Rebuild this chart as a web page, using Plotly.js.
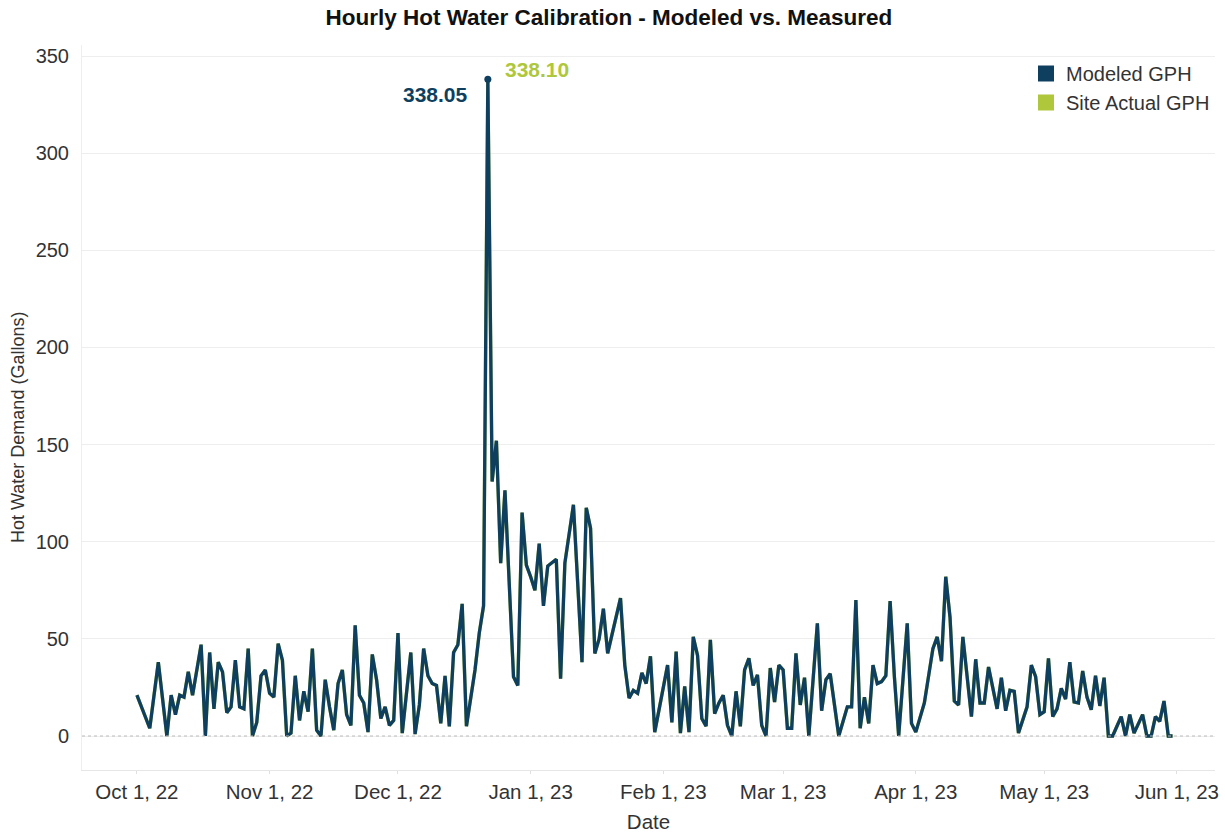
<!DOCTYPE html>
<html>
<head>
<meta charset="utf-8">
<script src="https://cdn.plot.ly/plotly-3.0.1.min.js"></script>
<style>html,body{margin:0;padding:0;background:#fff;}#chart{width:1225px;height:833px;}</style>
</head>
<body>
<div id="chart"></div>
<script>
const dates = [
"2022-10-01","2022-10-04","2022-10-06","2022-10-08","2022-10-09","2022-10-10","2022-10-11","2022-10-12","2022-10-13","2022-10-14",
"2022-10-16","2022-10-17","2022-10-18","2022-10-19","2022-10-20","2022-10-21","2022-10-22","2022-10-23","2022-10-24","2022-10-25",
"2022-10-26","2022-10-27","2022-10-28","2022-10-29","2022-10-30","2022-10-31","2022-11-01","2022-11-02","2022-11-03","2022-11-04",
"2022-11-05","2022-11-06","2022-11-07","2022-11-08","2022-11-09","2022-11-10","2022-11-11","2022-11-12","2022-11-13","2022-11-14",
"2022-11-15","2022-11-16","2022-11-17","2022-11-18","2022-11-19","2022-11-20","2022-11-21","2022-11-22","2022-11-23","2022-11-24",
"2022-11-25","2022-11-26","2022-11-27","2022-11-28","2022-11-29","2022-11-30","2022-12-01","2022-12-02","2022-12-04","2022-12-05",
"2022-12-06","2022-12-07","2022-12-08","2022-12-09","2022-12-10","2022-12-11","2022-12-12","2022-12-13","2022-12-14","2022-12-15",
"2022-12-16","2022-12-17","2022-12-19","2022-12-20","2022-12-21","2022-12-22","2022-12-23","2022-12-24","2022-12-25","2022-12-26",
"2022-12-28","2022-12-29","2022-12-30","2022-12-31","2023-01-01","2023-01-02","2023-01-03","2023-01-04","2023-01-05","2023-01-06",
"2023-01-07","2023-01-08","2023-01-09","2023-01-11","2023-01-13","2023-01-14","2023-01-15","2023-01-16","2023-01-17","2023-01-18",
"2023-01-19","2023-01-20","2023-01-22","2023-01-23","2023-01-24","2023-01-25","2023-01-26","2023-01-27","2023-01-28","2023-01-29",
"2023-01-30","2023-02-02","2023-02-03","2023-02-04","2023-02-05","2023-02-06","2023-02-07","2023-02-08","2023-02-09","2023-02-10",
"2023-02-11","2023-02-12","2023-02-13","2023-02-14","2023-02-15","2023-02-16","2023-02-17","2023-02-18","2023-02-19","2023-02-20",
"2023-02-21","2023-02-22","2023-02-23","2023-02-24","2023-02-25","2023-02-26","2023-02-27","2023-02-28","2023-03-01","2023-03-02",
"2023-03-03","2023-03-04","2023-03-05","2023-03-06","2023-03-07","2023-03-09","2023-03-10","2023-03-11","2023-03-12","2023-03-14",
"2023-03-16","2023-03-17","2023-03-18","2023-03-19","2023-03-20","2023-03-21","2023-03-22","2023-03-23","2023-03-24","2023-03-25",
"2023-03-26","2023-03-27","2023-03-28","2023-03-30","2023-03-31","2023-04-01","2023-04-03","2023-04-05","2023-04-06","2023-04-07",
"2023-04-08","2023-04-09","2023-04-10","2023-04-11","2023-04-12","2023-04-14","2023-04-15","2023-04-16","2023-04-17","2023-04-18",
"2023-04-20","2023-04-21","2023-04-22","2023-04-23","2023-04-24","2023-04-25","2023-04-27","2023-04-28","2023-04-29","2023-04-30",
"2023-05-01","2023-05-02","2023-05-03","2023-05-04","2023-05-05","2023-05-06","2023-05-07","2023-05-08","2023-05-09","2023-05-10",
"2023-05-11","2023-05-12","2023-05-13","2023-05-14","2023-05-15","2023-05-16","2023-05-17","2023-05-18","2023-05-19","2023-05-20",
"2023-05-21","2023-05-22","2023-05-23","2023-05-24","2023-05-25","2023-05-26","2023-05-27","2023-05-28","2023-05-29","2023-05-30",
"2023-05-31"
];
const modeledGph = [
21,4,38,0,21,11,21,20,33,21,
47,0,43,14,38,33,12,15,39,15,
14,45,0,7,31,34,22,20,47.5,39,
0,1.5,31,8,23,12.5,45,3,0,29,
15,3,27,34,11,5.5,57,21,17,2,
42,29,9,15,5.5,8,53,1.5,43,1,
16,45,31,27,26,6.5,31,5,43,47,
68,5,34,53,67,338.05,131,152,89,126.5,
30.5,26,115,88,82,75,99,67,87.5,89,
91,29.5,89,119,38,117.5,107,42.5,50,65.5,
42.5,52,71,36.5,19.5,23.5,22,32.5,27,41,
2,36.5,7,43.5,1.5,25.5,2,51,41.5,9,
5,49.5,11.5,17,21,5.5,0,23,5,34,
40,26,31.5,5.5,0,35,17.5,36.5,34,4,
4,42.5,16,30,0,58,13,29,32,0,
15,15,70,4,20,6.5,36.5,27,28,31,
69.5,30.5,0,58,6.5,2,17,45,51,38.5,
82,61,18,16,51,10,39.5,17,17,35.5,
14,30,13,23.5,23,1.5,15,36.5,30.5,11,
12.5,40,10,14,24.5,19,38,17.5,17,33.5,
20,13.5,31,15.5,30,0,0,5,10,0,
11,1.5,6.5,11,0,0,10,7.5,18,0,
0
];
const siteActualGph = [
21,4,38,0,21,11,21,20,33,21,
47,0,43,14,38,33,12,15,39,15,
14,45,0,7,31,34,22,20,47.5,39,
0,1.5,31,8,23,12.5,45,3,0,29,
15,3,27,34,11,5.5,57,21,17,2,
42,29,9,15,5.5,8,53,1.5,43,1,
16,45,31,27,26,6.5,31,5,43,47,
68,5,34,53,67,338.10,131,152,89,126.5,
30.5,26,115,88,82,75,99,67,87.5,89,
91,29.5,89,119,38,117.5,107,42.5,50,65.5,
42.5,52,71,36.5,19.5,23.5,22,32.5,27,41,
2,36.5,7,43.5,1.5,25.5,2,51,41.5,9,
5,49.5,11.5,17,21,5.5,0,23,5,34,
40,26,31.5,5.5,0,35,17.5,36.5,34,4,
4,42.5,16,30,0,58,13,29,32,0,
15,15,70,4,20,6.5,36.5,27,28,31,
69.5,30.5,0,58,6.5,2,17,45,51,38.5,
82,61,18,16,51,10,39.5,17,17,35.5,
14,30,13,23.5,23,1.5,15,36.5,30.5,11,
12.5,40,10,14,24.5,19,38,17.5,17,33.5,
20,13.5,31,15.5,30,0,0,5,10,0,
11,1.5,6.5,11,0,0,10,7.5,18,0,
0
];
const seriesNames = ["Modeled GPH", "Site Actual GPH"];

const NAVY = "#0f3f5e";
const GREEN = "#aec73b";
const FONT = "Liberation Sans, Arial, sans-serif";

const peakM = modeledGph.indexOf(Math.max(...modeledGph));
const peakA = siteActualGph.indexOf(Math.max(...siteActualGph));

const traces = [
  {x: dates, y: siteActualGph, type: "scatter", mode: "lines", name: seriesNames[1],
   line: {color: GREEN, width: 3.4}, showlegend: false, hoverinfo: "skip"},
  {x: dates, y: modeledGph, type: "scatter", mode: "lines", name: seriesNames[0],
   line: {color: NAVY, width: 3.3}, showlegend: false},
  {x: [dates[peakM]], y: [modeledGph[peakM]], type: "scatter", mode: "markers",
   marker: {color: NAVY, size: 7}, showlegend: false},
  {x: [null], y: [null], type: "scatter", mode: "markers", name: seriesNames[0],
   marker: {color: NAVY, symbol: "square", size: 17}},
  {x: [null], y: [null], type: "scatter", mode: "markers", name: seriesNames[1],
   marker: {color: GREEN, symbol: "square", size: 17}}
];

const layout = {
  width: 1225, height: 833,
  margin: {l: 82, r: 10, t: 45, b: 63},
  paper_bgcolor: "#ffffff", plot_bgcolor: "#ffffff",
  font: {family: FONT, size: 18, color: "#333333"},
  title: {text: "Hourly Hot Water Calibration - Modeled vs. Measured",
          font: {family: FONT, size: 22.5, color: "#111111", weight: "bold"},
          xref: "container", x: 0.497, xanchor: "center",
          yref: "container", y: 1 - 17/833, yanchor: "middle"},
  xaxis: {
    type: "date",
    range: ["2022-09-18 04:00", "2023-06-09 22:00"],
    tick0: "2022-10-01", dtick: "M1", tickformat: "%b %-d, %y",
    showgrid: false, zeroline: false,
    showline: true, linecolor: "#e6e6e6", linewidth: 1,
    ticks: "outside", ticklen: 3, tickcolor: "#e0e0e0",
    tickfont: {family: FONT, size: 20.5, color: "#333333"},
    title: {text: "Date", font: {family: FONT, size: 20.5, color: "#333333"}, standoff: 14}
  },
  yaxis: {
    range: [-17.5, 355.7],
    tickvals: [0, 50, 100, 150, 200, 250, 300, 350],
    showgrid: true, gridcolor: "#eeeeee", gridwidth: 1,
    zeroline: false, showline: true, linecolor: "#eeeeee",
    ticks: "", ticklabelstandoff: 8,
    tickfont: {family: FONT, size: 20, color: "#333333"}
  },
  shapes: [
    {type: "line", xref: "paper", x0: 0, x1: 1, yref: "y", y0: 0, y1: 0,
     line: {color: "#bbbbbb", width: 1, dash: "dot"}}
  ],
  annotations: [
    {xref: "paper", yref: "paper", x: (18 - 82) / 1133, y: (770 - 428) / 725,
     text: "Hot Water Demand (Gallons)", textangle: -90, showarrow: false,
     xanchor: "center", yanchor: "middle",
     font: {family: FONT, size: 18, color: "#333333"}},
    {x: dates[peakM], y: modeledGph[peakM], xref: "x", yref: "y",
     text: modeledGph[peakM].toFixed(2), showarrow: false,
     xanchor: "right", yanchor: "middle", xshift: -18, yshift: -15,
     font: {family: FONT, size: 21, color: NAVY, weight: "bold"}},
    {x: dates[peakA], y: siteActualGph[peakA], xref: "x", yref: "y",
     text: siteActualGph[peakA].toFixed(2), showarrow: false,
     xanchor: "left", yanchor: "middle", xshift: 15, yshift: 10,
     font: {family: FONT, size: 21, color: GREEN, weight: "bold"}}
  ],
  legend: {x: 1, xanchor: "right", y: 1 - 9/725, yanchor: "top",
           bgcolor: "rgba(0,0,0,0)", font: {family: FONT, size: 20, color: "#333333"},
           itemwidth: 30, tracegroupgap: 0}
};

Plotly.newPlot("chart", traces, layout, {displayModeBar: false, staticPlot: true});
</script>
</body>
</html>
